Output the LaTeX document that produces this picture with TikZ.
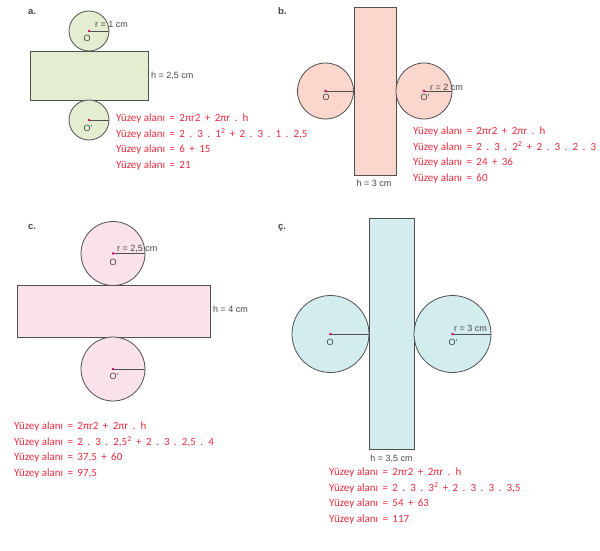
\documentclass[tikz,border=0pt]{standalone}
\usepackage{fontspec}
\setmainfont{Carlito}
\newfontfamily\labfont{Liberation Sans}
\newcommand\calcfont{\fontsize{11}{14}\selectfont\spaceskip 0.4em\relax}
\newcommand\Ya{Yüzey\hskip0.23em alanı}
\definecolor{linegray}{RGB}{80,80,80}
\definecolor{labgray}{RGB}{70,70,70}
\definecolor{redc}{RGB}{228,45,62}
\definecolor{dotc}{RGB}{215,0,110}
\definecolor{fillA}{RGB}{227,237,208}
\definecolor{fillB}{RGB}{250,214,204}
\definecolor{fillC}{RGB}{249,226,235}
\definecolor{fillD}{RGB}{211,236,238}
\begin{document}
\begin{tikzpicture}[x=1pt,y=-1pt,
  netshape/.style={draw=linegray, line width=0.8pt},
  radline/.style={draw=linegray, line width=0.8pt},
  lab/.style={font=\labfont\fontsize{9}{11}\selectfont, text=labgray, inner sep=0pt},
  panel/.style={font=\labfont\bfseries\fontsize{9.5}{11}\selectfont, text=labgray, inner sep=0pt, anchor=base west},
  calc/.style={font=\calcfont, text=redc, inner sep=0pt, anchor=base west}]
\useasboundingbox (0,0) rectangle (600,551);
\fill[white] (0,0) rectangle (600,551);

% ---------- panel a ----------
\node[panel] (la) at (28,15) {a.};
\coordinate (aO) at (89,31);
\coordinate (aP) at (89,120);
\draw[netshape, fill=fillA] (30,51) rectangle (148,100);
\draw[netshape, fill=fillA] (aO) circle (20pt);
\draw[netshape, fill=fillA] (aP) circle (20pt);
\coordinate (aOr) at (109,31);
\coordinate (aPr) at (109,120);
\draw[radline] (aO) -- (aOr);
\draw[radline] (aP) -- (aPr);
\fill[dotc] (aO) circle (1.3pt);
\fill[dotc] (aP) circle (1.3pt);
\node[lab, anchor=base west] (ar) at (95,27.5) {r = 1 cm};
\node[lab, anchor=base] (aOl) at (87,41.7) {O};
\node[lab, anchor=base] (aPl) at (88,131) {O'};
\node[lab, anchor=base west] (ah) at (151,78) {h = 2,5 cm};
\node[calc] (a1) at (116,121.5) {\Ya{} = 2πr2 + 2πr . h};
\node[calc] (a2) at (116,137) {\Ya{} = 2 . 3 . 1\textsuperscript{2} + 2 . 3 . 1 . 2,5};
\node[calc] (a3) at (116,152.5) {\Ya{} = 6 + 15};
\node[calc] (a4) at (116,168) {\Ya{} = 21};

% ---------- panel b ----------
\node[panel] (lb) at (278,15) {b.};
\coordinate (bO) at (325.5,91);
\coordinate (bP) at (424,91);
\draw[netshape, fill=fillB] (354,7) rectangle (396,175);
\draw[netshape, fill=fillB] (bO) circle (28pt);
\draw[netshape, fill=fillB] (bP) circle (28pt);
\coordinate (bOr) at (353.5,91);
\coordinate (bPr) at (452,91);
\draw[radline] (bO) -- (bOr);
\draw[radline] (bP) -- (bPr);
\fill[dotc] (bO) circle (1.3pt);
\fill[dotc] (bP) circle (1.3pt);
\node[lab, anchor=base west] (br) at (430,90.5) {r = 2 cm};
\node[lab, anchor=base] (bOl) at (326,100.7) {O};
\node[lab, anchor=base] (bPl) at (425,100.7) {O'};
\node[lab, anchor=base] (bh) at (374,186.5) {h = 3 cm};
\node[calc] (b1) at (413,134.5) {\Ya{} = 2πr2 + 2πr . h};
\node[calc] (b2) at (413,150) {\Ya{} = 2 . 3 . 2\textsuperscript{2} + 2 . 3 . 2 . 3};
\node[calc] (b3) at (413,165.5) {\Ya{} = 24 + 36};
\node[calc] (b4) at (413,181) {\Ya{} = 60};

% ---------- panel c ----------
\node[panel] (lc) at (28,229.5) {c.};
\coordinate (cO) at (113,253.5);
\coordinate (cP) at (113,369);
\draw[netshape, fill=fillC] (17,285.5) rectangle (210,337);
\draw[netshape, fill=fillC] (cO) circle (32pt);
\draw[netshape, fill=fillC] (cP) circle (32pt);
\coordinate (cOr) at (145,253.5);
\coordinate (cPr) at (145,369);
\draw[radline] (cO) -- (cOr);
\draw[radline] (cP) -- (cPr);
\fill[dotc] (cO) circle (1.3pt);
\fill[dotc] (cP) circle (1.3pt);
\node[lab, anchor=base west] (cr) at (117,251) {r = 2,5 cm};
\node[lab, anchor=base] (cOl) at (113,265) {O};
\node[lab, anchor=base] (cPl) at (114,379) {O'};
\node[lab, anchor=base west] (ch) at (213,312.5) {h = 4 cm};
\node[calc] (c1) at (14,429.5) {\Ya{} = 2πr2 + 2πr . h};
\node[calc] (c2) at (14,445) {\Ya{} = 2 . 3 . 2,5\textsuperscript{2} + 2 . 3 . 2,5 . 4};
\node[calc] (c3) at (14,460.5) {\Ya{} = 37,5 + 60};
\node[calc] (c4) at (14,476) {\Ya{} = 97,5};

% ---------- panel ç ----------
\node[panel] (ld) at (278,229.5) {ç.};
\coordinate (dO) at (330.5,334);
\coordinate (dP) at (452.5,334);
\draw[netshape, fill=fillD] (369,218) rectangle (414,449);
\draw[netshape, fill=fillD] (dO) circle (38.5pt);
\draw[netshape, fill=fillD] (dP) circle (38.5pt);
\coordinate (dOr) at (369,334);
\coordinate (dPr) at (491,334);
\draw[radline] (dO) -- (dOr);
\draw[radline] (dP) -- (dPr);
\fill[dotc] (dO) circle (1.3pt);
\fill[dotc] (dP) circle (1.3pt);
\node[lab, anchor=base west] (dr) at (454,331.5) {r = 3 cm};
\node[lab, anchor=base] (dOl) at (330,345) {O};
\node[lab, anchor=base] (dPl) at (453,345) {O'};
\node[lab, anchor=base] (dh) at (391.5,461) {h = 3,5 cm};
\node[calc] (d1) at (329,475.5) {\Ya{} = 2πr2 + 2πr . h};
\node[calc] (d2) at (329,491) {\Ya{} = 2 . 3 . 3\textsuperscript{2} + 2 . 3 . 3 . 3,5};
\node[calc] (d3) at (329,506.5) {\Ya{} = 54 + 63};
\node[calc] (d4) at (329,522) {\Ya{} = 117};
\end{tikzpicture}
\end{document}
